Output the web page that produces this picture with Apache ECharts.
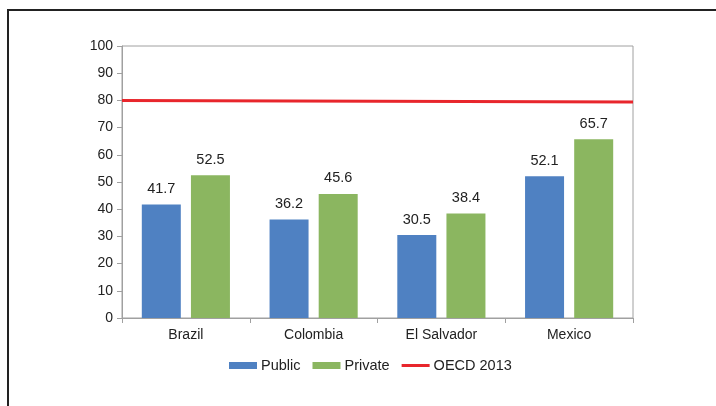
<!DOCTYPE html>
<html><head><meta charset="utf-8">
<script src="https://cdn.jsdelivr.net/npm/echarts@6/dist/echarts.min.js"></script>
<style>html,body{margin:0;padding:0;background:#fff}#c{width:716px;height:406px}</style>
</head><body><div id="c"></div>
<script>
const categories = ['Brazil', 'Colombia', 'El Salvador', 'Mexico'];
const publicValues = [41.7, 36.2, 30.5, 52.1];
const privateValues = [52.5, 45.6, 38.4, 65.7];
const oecdEnds = [80, 79.4];
const yTicks = {min: 0, max: 100, interval: 10};

const chart = echarts.init(document.getElementById('c'));
const font = 'Liberation Sans, Arial, sans-serif';
chart.setOption({
  animation: false,
  textStyle: {fontFamily: font},
  graphic: [{type: 'rect', shape: {x: 8, y: 10, width: 800, height: 500},
    style: {fill: 'none', stroke: '#222', lineWidth: 2}}],
  grid: {left: 122, right: 83, top: 46, bottom: 88, show: true, borderColor: '#a0a0a0', borderWidth: 1},
  legend: {
    bottom: 28, left: 224, itemWidth: 28, itemHeight: 7, itemGap: 12,
    textStyle: {fontSize: 14.5, color: '#222', fontFamily: font, padding: [0,0,0,-1]},
    data: [{name: 'Public', icon: 'rect'}, {name: 'Private', icon: 'rect'},
           {name: 'OECD 2013', icon: 'path://M0,0h32v3.5h-32z', itemStyle: {color: '#e8262c'}}]
  },
  xAxis: [{
    type: 'category', data: categories,
    axisLine: {lineStyle: {color: '#a0a0a0'}},
    axisTick: {show: true, length: 5, lineStyle: {color: '#a0a0a0'}},
    axisLabel: {color: '#222', fontSize: 14, margin: 10, fontFamily: font}
  }, {
    type: 'category', data: ['a', 'b'], boundaryGap: false, show: false
  }],
  yAxis: {
    type: 'value', min: yTicks.min, max: yTicks.max, interval: yTicks.interval,
    splitLine: {show: false},
    axisLine: {show: true, lineStyle: {color: '#a0a0a0'}},
    axisTick: {show: true, length: 5, lineStyle: {color: '#a0a0a0'}},
    axisLabel: {color: '#222', fontSize: 14, margin: 9, fontFamily: font}
  },
  series: [{
    name: 'Public', type: 'bar', data: publicValues, barWidth: 39, barGap: '26%',
    itemStyle: {color: '#4f81c2'},
    label: {show: true, position: 'top', distance: 8, color: '#222', fontSize: 14.5, fontFamily: font}
  }, {
    name: 'Private', type: 'bar', data: privateValues, barWidth: 39,
    itemStyle: {color: '#8bb660'},
    label: {show: true, position: 'top', distance: 8, color: '#222', fontSize: 14.5, fontFamily: font}
  }, {
    name: 'OECD 2013', type: 'line', xAxisIndex: 1, data: oecdEnds,
    symbol: 'none', lineStyle: {color: '#e8262c', width: 3}, itemStyle: {color: '#e8262c'}
  }]
});
</script></body></html>
